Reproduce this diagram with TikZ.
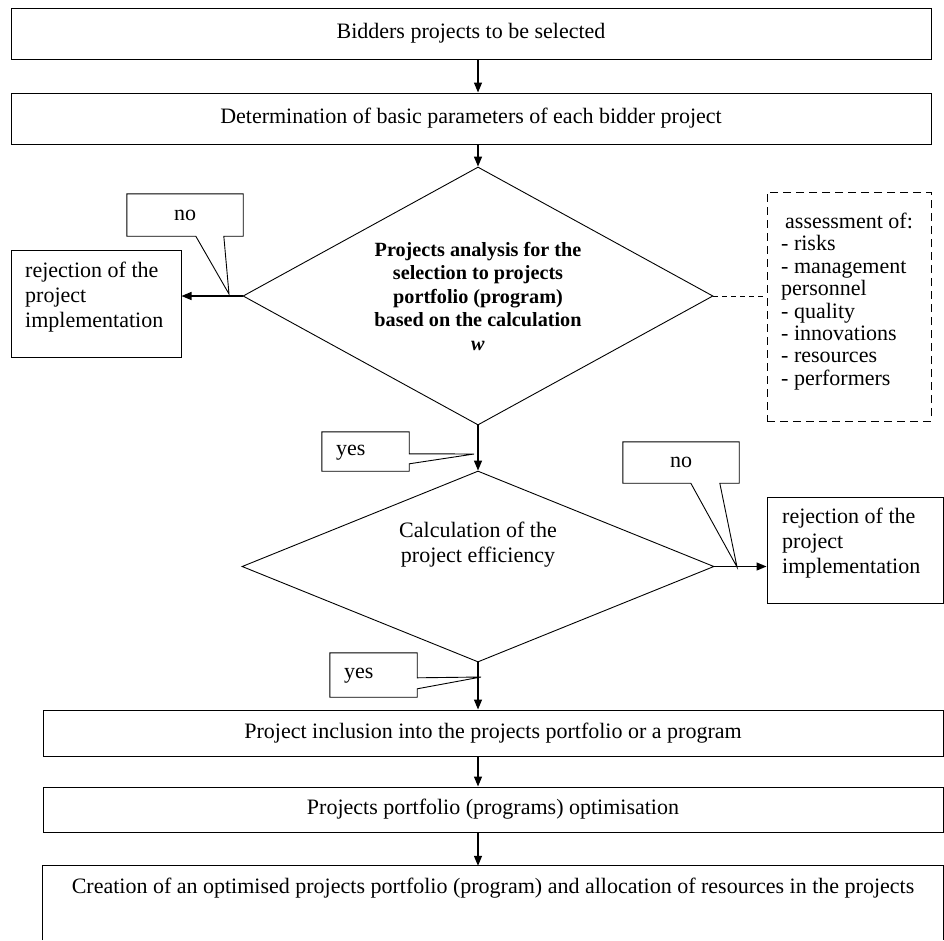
\documentclass[tikz,border=0pt]{standalone}
\usepackage{fontspec}
\setmainfont{Liberation Serif}
\usetikzlibrary{shapes.geometric,arrows.meta,calc}
\newcommand{\regfont}{\fontsize{22}{25}\selectfont}
\newcommand{\boldfont}{\fontsize{20.2}{23.5}\selectfont\bfseries}
\begin{document}
\begin{tikzpicture}[x=1pt,y=-1pt,
  box/.style={draw, line width=1pt, rectangle, inner sep=0pt},
  dia/.style={draw, line width=0.9pt, diamond, inner sep=0pt, shape aspect=1.8},
  txt/.style={inner sep=0pt, font=\regfont, align=left, anchor=west},
  arr/.style={line width=1.3pt, -{Triangle[length=10pt,width=8pt]}},
  callout/.style={draw, line width=0.9pt, line join=miter},
  dashbox/.style={draw, line width=0.9pt, dash pattern=on 8pt off 5pt, inner sep=0pt},
  link/.style={line width=0.8pt, dash pattern=on 5pt off 4pt}]

\useasboundingbox (0,0) rectangle (944,940);

% top boxes
\node[box, minimum width=920pt, minimum height=51pt, font=\regfont] (b1) at (471,33.5) {Bidders projects to be selected};
\node[box, minimum width=920pt, minimum height=51pt, font=\regfont] (b2) at (471,118.5) {Determination of basic parameters of each bidder project};

% decision 1
\node[dia, minimum width=470pt, minimum height=258pt, font=\boldfont, align=center] (d1) at (478,296) {Projects analysis for the\\selection to projects\\portfolio (program)\\based on the calculation\\\textit{w}};

% rejection 1
\node[box, minimum width=170pt, minimum height=107pt] (r1) at (96,303.5) {};
\node[txt] (r1t) at (25,297) {rejection of the\\project\\implementation};

% dashed assessment box
\node[dashbox, minimum width=164pt, minimum height=229pt] (ds) at (849,306.5) {};
\node[txt, font=\fontsize{22}{22.4}\selectfont] (dst) at (781,301.5) {\hspace{4pt}assessment of:\\- risks\\- management\\personnel\\- quality\\- innovations\\- resources\\- performers};

% callout no 1
\node[inner sep=0pt, minimum width=116pt, minimum height=42pt, font=\regfont] (no1) at (185,215) {no};
\coordinate (no1tip) at (229,294);
\draw[callout] (no1.south west) -- (no1.north west) -- (no1.north east) -- (no1.south east) -- ($(no1.south west)+(97,0)$) -- (no1tip) -- ($(no1.south west)+(69,0)$) -- cycle;

% callout yes 1
\node[inner sep=0pt, minimum width=87pt, minimum height=39pt] (y1) at (365.5,451.5) {};
\node[txt] (y1t) at (336,453) {yes};
\coordinate (y1tip) at (474,454);
\draw[callout] (y1.north east) -- (y1.north west) -- (y1.south west) -- (y1.south east) -- ($(y1.north east)+(0,32)$) -- (y1tip) -- ($(y1.north east)+(0,22)$) -- cycle;

% decision 2
\node[dia, minimum width=472pt, minimum height=191pt] (d2) at (478,566.5) {};
\node[inner sep=0pt, font=\regfont, align=center] (d2t) at (478,545) {Calculation of the\\project efficiency};

% callout no 2
\node[inner sep=0pt, minimum width=116pt, minimum height=41pt, font=\regfont] (no2) at (681,462.5) {no};
\coordinate (no2tip) at (737,567);
\draw[callout] (no2.south west) -- (no2.north west) -- (no2.north east) -- (no2.south east) -- ($(no2.south west)+(97,0)$) -- (no2tip) -- ($(no2.south west)+(68,0)$) -- cycle;

% rejection 2
\node[box, minimum width=176pt, minimum height=106pt] (r2) at (855,550) {};
\node[txt] (r2t) at (782,543) {rejection of the\\project\\implementation};

% callout yes 2
\node[inner sep=0pt, minimum width=87pt, minimum height=44pt] (y2) at (373.5,675) {};
\node[txt] (y2t) at (344,676) {yes};
\coordinate (y2tip) at (481,677);
\draw[callout] (y2.north east) -- (y2.north west) -- (y2.south west) -- (y2.south east) -- ($(y2.north east)+(0,36)$) -- (y2tip) -- ($(y2.north east)+(0,25)$) -- cycle;

% bottom boxes
\node[box, minimum width=900pt, minimum height=46pt, font=\regfont] (b3) at (493,733) {Project inclusion into the projects portfolio or a program};
\node[box, minimum width=900pt, minimum height=45pt, font=\regfont] (b4) at (493,809.5) {Projects portfolio (programs) optimisation};
\node[inner sep=0pt, minimum width=900pt, minimum height=74pt] (b5) at (493,903) {};
\draw[line width=1pt] (b5.south west) -- (b5.north west) -- (b5.north east) -- (b5.south east);
\node[inner sep=0pt, font=\regfont] (b5t) at (493,888) {Creation of an optimised projects portfolio (program) and allocation of resources in the projects};

% connectors
\draw[arr] (b1.south -| d1.north) -- (b2.north -| d1.north);
\draw[arr] (b2.south -| d1.north) -- (d1.north);
\draw[arr] (d1.west) -- (r1.east |- d1.west);
\draw[link] (d1.east) -- (ds.west |- d1.east);
\draw[arr] (d1.south) -- (d2.north);
\draw[arr] (d2.east) -- (r2.west |- d2.east);
\draw[arr] (d2.south) -- (b3.north -| d2.south);
\draw[arr] (b3.south -| d2.south) -- (b4.north -| d2.south);
\draw[arr] (b4.south -| d2.south) -- (b5.north -| d2.south);
\end{tikzpicture}
\end{document}
